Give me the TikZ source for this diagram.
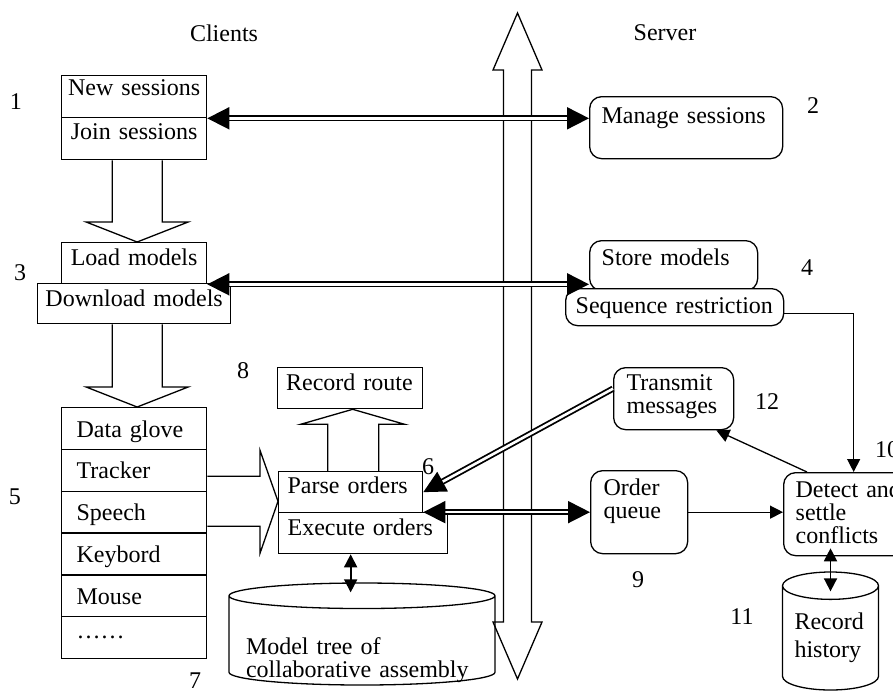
\documentclass[tikz,border=0pt]{standalone}
\usepackage{fontspec}
\setmainfont{Liberation Serif}
\usetikzlibrary{arrows.meta,calc,shapes.geometric}

\tikzset{
  cell/.style={draw, line width=0.65pt, anchor=north west, inner ysep=0pt, align=left},
  roundcell/.style={cell, rounded corners=6pt},
  midcell/.style={cell, inner xsep=0pt, text width=72.5pt, align=center},
  store/.style={draw, line width=0.65pt, cylinder, shape border rotate=90,
    anchor=shape center, inner sep=0pt, align=left},
  hollow/.style={draw, line width=0.65pt, line join=miter},
  twoway/.style={double, double distance=1.3pt, line width=0.9pt,
    {Triangle[length=11pt,width=11pt]}-{Triangle[length=11pt,width=11pt]}},
  dblto/.style={double, double distance=1.3pt, line width=0.9pt,
    -{Triangle[length=11pt,width=11pt]}},
  oneway/.style={line width=0.65pt, -{Triangle[length=6.5pt,width=6.5pt]}},
  bothway/.style={line width=0.9pt,
    {Triangle[length=6.5pt,width=6.5pt]}-{Triangle[length=6.5pt,width=6.5pt]}},
  num/.style={inner sep=0pt},
}

% hollow block arrow from the bottom of #1 down to the top of #2
\newcommand{\blockdown}[2]{%
  \draw[hollow] ($(#1.south)+(-22,0)$) -- ($(#2.north)+(-22,-20)$)
    -- ($(#2.north)+(-48,-20)$) -- ($(#2.north)+(3,0)$)
    -- ($(#2.north)+(54,-20)$) -- ($(#2.north)+(28,-20)$)
    -- ($(#1.south)+(28,0)$);
}

\begin{document}
\begin{tikzpicture}[x=0.5pt,y=-0.5pt,font=\fontsize{12}{11.5}\selectfont]
  \useasboundingbox (0,0) rectangle (893,691);
  \clip (0,0) rectangle (893,691);

  % --- headings ---
  \node (clients) at (224,33) {Clients};
  \node (server) at (665,33) {Server};

  % --- network between clients and server ---
  \draw[hollow] (517.5,13) -- (542,70) -- (531.5,70) -- (531.5,622) -- (542,622)
    -- (517.5,679) -- (493,622) -- (503.5,622) -- (503.5,70) -- (493,70) -- cycle;

  % --- client side ---
  \node[midcell, text height=10pt, text depth=11pt] (ns) at (61,75) {New sessions};
  \node[midcell, text height=11pt, text depth=10pt] (js) at (61,117) {Join sessions};
  \node[midcell, text height=11.5pt, text depth=9pt] (lm) at (61,242) {Load models};
  \node[midcell, text width=96.5pt, text height=11.5pt, text depth=8.5pt] (dm) at (37,283) {Download models};
  \foreach \lab [count=\i] in {Data glove,Tracker,Speech,Keybord,Mouse,{\raisebox{4pt}{……}}}
    \node[cell, inner xsep=7.5pt, text width=57.5pt, text height=14.75pt, text depth=6.15pt]
      (dev\i) at (61,{407+41.8*(\i-1)}) {\lab};

  \node[cell, inner xsep=4.25pt, text width=64pt, text height=11.5pt, text depth=9pt] (rr) at (277,367) {Record route};
  \node[cell, inner xsep=4.5pt, text width=63pt, text height=11pt, text depth=9.5pt] (po) at (278,471) {Parse orders};
  \node[cell, inner xsep=4.5pt, text width=75.5pt, text height=11.5pt, text depth=9pt] (eo) at (278,512) {Execute orders};
  \node[store, aspect=0.11, minimum width=133pt, minimum height=51pt, text width=116pt,
    text height=14pt, text depth=0pt] (mt) at (362,634) {Model tree of\\collaborative assembly};

  % --- server side ---
  \node[roundcell, inner xsep=6pt, text width=84.5pt, text height=13.5pt, text depth=17.5pt] (ms) at (589,96) {Manage sessions};
  \node[roundcell, inner xsep=6pt, text width=72pt, text height=12.5pt, text depth=12.5pt] (sm) at (589,240) {Store models};
  \node[roundcell, fill=white, inner xsep=5pt, text width=99pt, text height=12.5pt, text depth=6pt] (sr) at (565,288) {Sequence restriction};
  \node[roundcell, inner xsep=6.5pt, text width=47pt, text height=11.5pt, text depth=19.5pt] (tm) at (613,367) {Transmit\\messages};
  \node[roundcell, inner xsep=6.5pt, text width=35.5pt, text height=12.5pt, text depth=29pt] (oq) at (590,470) {Order\\queue};
  \node[roundcell, inner xsep=6pt, text width=58pt, text height=12.5pt, text depth=29pt] (dc) at (783,472) {Detect and\\settle\\conflicts};
  \node[store, aspect=0.38, minimum width=48pt, minimum height=59pt, text width=36pt,
    text height=0pt, text depth=9pt] (rh) at (830.5,631) {Record\\[2.5pt]history};

  % --- block arrows ---
  \blockdown{js}{lm}
  \blockdown{dm}{dev1}
  \draw[hollow] ($(po.north)+(-23,0)$) -- ($(rr.south)+(-22.5,15)$) -- ($(rr.south)+(-49.5,15)$)
    -- ($(rr.south)+(2.5,0)$) -- ($(rr.south)+(54.5,15)$) -- ($(rr.south)+(28.5,15)$)
    -- ($(po.north)+(28,0)$);
  \coordinate (intip) at ($(po.south west)+(0,-12)$);
  \draw[hollow] ($(intip -| dev2.east)+(0,-25)$) -- ($(intip)+(-18,-25)$) -- ($(intip)+(-18,-51)$)
    -- (intip) -- ($(intip)+(-18,52)$) -- ($(intip)+(-18,25)$) -- ($(intip -| dev2.east)+(0,25)$);

  % --- connectors ---
  \draw[twoway] (ns.south east) -- (ns.south east -| ms.west);
  \draw[twoway] (lm.south east) -- (lm.south east -| sm.west);
  \draw[dblto] ($(tm.west)+(0,-10)$) -- (po.east);
  \draw[twoway] (oq.west) -- (oq.west -| po.east);
  \draw[oneway] (oq.east) -- (oq.east -| dc.west);
  \draw[oneway] ($(sr.east)+(0,6)$) -| (dc.north);
  \draw[oneway] ($(dc.north west)+(24,0)$) -- ($(tm.south east)+(-18,0)$);
  \draw[bothway] ($(rh.top |- dc.south)+(0,-8)$) -- ($(rh.top)+(0,20)$);
  \draw[bothway] (po.south |- eo.south) -- ($(po.south |- mt.top)+(0,10)$);

  % --- step numbers ---
  \node[num] (n1) at (16,102) {1};
  \node[num] (n2) at (813,106) {2};
  \node[num] (n3) at (20,273) {3};
  \node[num] (n4) at (807,268) {4};
  \node[num] (n5) at (15,497) {5};
  \node[num] (n6) at (428,467) {6};
  \node[num] (n7) at (195,681) {7};
  \node[num] (n8) at (243,371) {8};
  \node[num] (n9) at (638,580) {9};
  \node[num] (n10) at (887,450) {10};
  \node[num] (n11) at (742,617) {11};
  \node[num] (n12) at (767,402) {12};
\end{tikzpicture}
\end{document}
